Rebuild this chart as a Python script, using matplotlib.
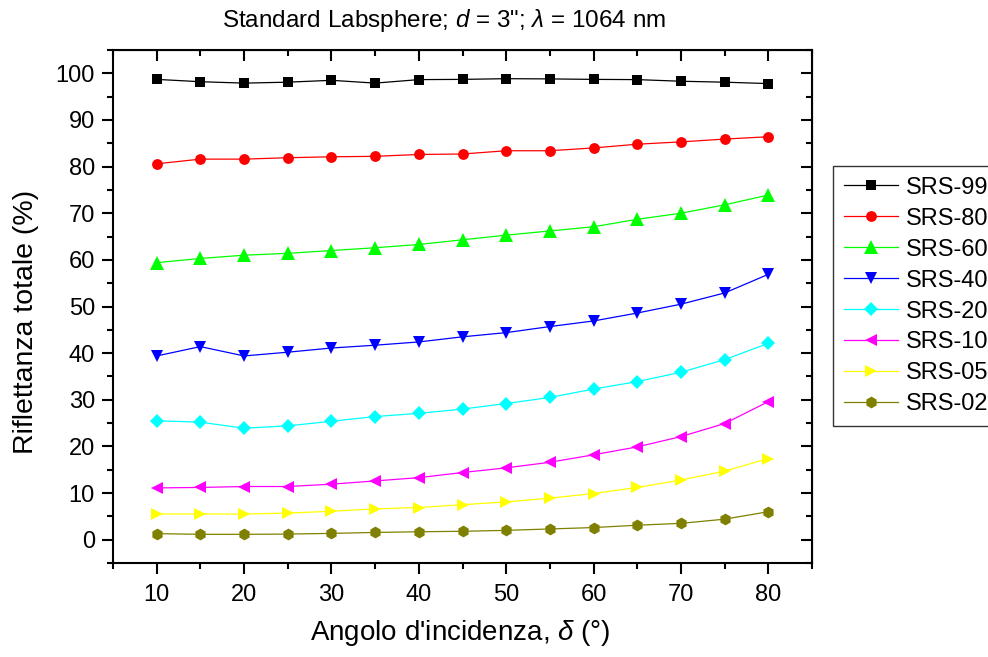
import matplotlib
matplotlib.use("Agg")
import matplotlib.pyplot as plt
from matplotlib.ticker import MultipleLocator

plt.rcParams['font.family'] = ['Liberation Sans', 'DejaVu Sans']
plt.rcParams['mathtext.fontset'] = 'custom'
plt.rcParams['mathtext.rm'] = 'Liberation Sans'
plt.rcParams['mathtext.it'] = 'Liberation Sans:italic'

# angle of incidence (deg)
angles = [10, 15, 20, 25, 30, 35, 40, 45, 50, 55, 60, 65, 70, 75, 80]

srs99 = [98.7, 98.2, 97.9, 98.1, 98.5, 97.9, 98.65, 98.7, 98.85, 98.8, 98.7, 98.65, 98.3, 98.1, 97.8]
srs80 = [80.6, 81.6, 81.6, 81.9, 82.1, 82.2, 82.6, 82.7, 83.4, 83.4, 84.0, 84.8, 85.3, 85.9, 86.4]
srs60 = [59.4, 60.3, 61.0, 61.4, 62.0, 62.6, 63.3, 64.3, 65.3, 66.2, 67.1, 68.7, 70.0, 71.8, 73.9]
srs40 = [39.4, 41.4, 39.4, 40.2, 41.1, 41.7, 42.4, 43.5, 44.4, 45.7, 46.9, 48.6, 50.5, 52.9, 56.9]
srs20 = [25.5, 25.2, 23.9, 24.4, 25.4, 26.4, 27.1, 28.0, 29.2, 30.5, 32.3, 33.9, 35.9, 38.6, 42.1]
srs10 = [11.1, 11.2, 11.4, 11.4, 11.9, 12.6, 13.3, 14.4, 15.4, 16.6, 18.2, 19.9, 22.1, 24.9, 29.6]
srs05 = [5.5, 5.5, 5.5, 5.7, 6.1, 6.6, 6.9, 7.5, 8.1, 8.9, 9.9, 11.2, 12.8, 14.7, 17.4]
srs02 = [1.3, 1.15, 1.15, 1.2, 1.35, 1.55, 1.7, 1.8, 2.0, 2.3, 2.6, 3.1, 3.5, 4.4, 6.0]

labels = ['SRS-99', 'SRS-80', 'SRS-60', 'SRS-40', 'SRS-20', 'SRS-10', 'SRS-05', 'SRS-02']
series = [srs99, srs80, srs60, srs40, srs20, srs10, srs05, srs02]
colors = ['#000000', '#ff0000', '#00ff00', '#0000ff', '#00ffff', '#ff00ff', '#ffff00', '#808000']
markers = ['s', 'o', '^', 'v', 'D', '<', '>', 'h']
msizes = [7.2, 7.8, 9.5, 9.0, 7.0, 9.0, 9.0, 8.5]

fig = plt.figure(figsize=(9.88, 6.57), dpi=100)
ax = fig.add_axes([113 / 988, 1 - 563 / 657, (812 - 113) / 988, (563 - 50) / 657])

for ys, lab, c, m, ms in zip(series, labels, colors, markers, msizes):
    ax.plot(angles, ys, color=c, marker=m, markersize=ms, lw=0.9,
            markeredgewidth=0, label=lab)

ax.set_xlim(5, 85)
ax.set_ylim(-5, 105)
ax.xaxis.set_major_locator(MultipleLocator(10))
ax.xaxis.set_minor_locator(MultipleLocator(5))
ax.yaxis.set_major_locator(MultipleLocator(10))
ax.yaxis.set_minor_locator(MultipleLocator(5))

for s in ax.spines.values():
    s.set_linewidth(1.5)

ax.tick_params(which='both', direction='out', width=1.5, labelsize=17)
ax.tick_params(axis='x', pad=7)
ax.tick_params(axis='y', pad=5)
ax.tick_params(which='major', length=8)
ax.tick_params(which='minor', length=4)

# inward ticks on top and right
sec_x = ax.secondary_xaxis('top')
sec_x.xaxis.set_major_locator(MultipleLocator(10))
sec_x.xaxis.set_minor_locator(MultipleLocator(5))
sec_x.tick_params(which='both', direction='in', width=1.5, labeltop=False)
sec_x.tick_params(which='major', length=8)
sec_x.tick_params(which='minor', length=4)
sec_y = ax.secondary_yaxis('right')
sec_y.yaxis.set_major_locator(MultipleLocator(10))
sec_y.yaxis.set_minor_locator(MultipleLocator(5))
sec_y.tick_params(which='both', direction='in', width=1.5, labelright=False)
sec_y.tick_params(which='major', length=8)
sec_y.tick_params(which='minor', length=4)

fig.text(444 / 988, 1 - 21 / 657, 'Standard Labsphere; $d$ = 3"; $\\lambda$ = 1064 nm',
         ha='center', va='center', fontsize=17.5)
fig.text(460 / 988, 1 - 633 / 657, "Angolo d'incidenza, $\\delta$ (°)",
         ha='center', va='center', fontsize=20)
fig.text(26 / 988, 1 - 322 / 657, 'Riflettanza totale (%)', rotation=90,
         ha='center', va='center', fontsize=20.5)

leg = fig.legend(loc='upper left', bbox_to_anchor=(833 / 988, 1 - 166 / 657),
                 borderaxespad=0, fontsize=17, frameon=True, fancybox=False,
                 handlelength=2.3, handletextpad=0.35, labelspacing=0.38,
                 borderpad=0.45)
leg.get_frame().set_edgecolor('black')
leg.get_frame().set_linewidth(1.0)

fig.savefig('out.png', dpi=100)
